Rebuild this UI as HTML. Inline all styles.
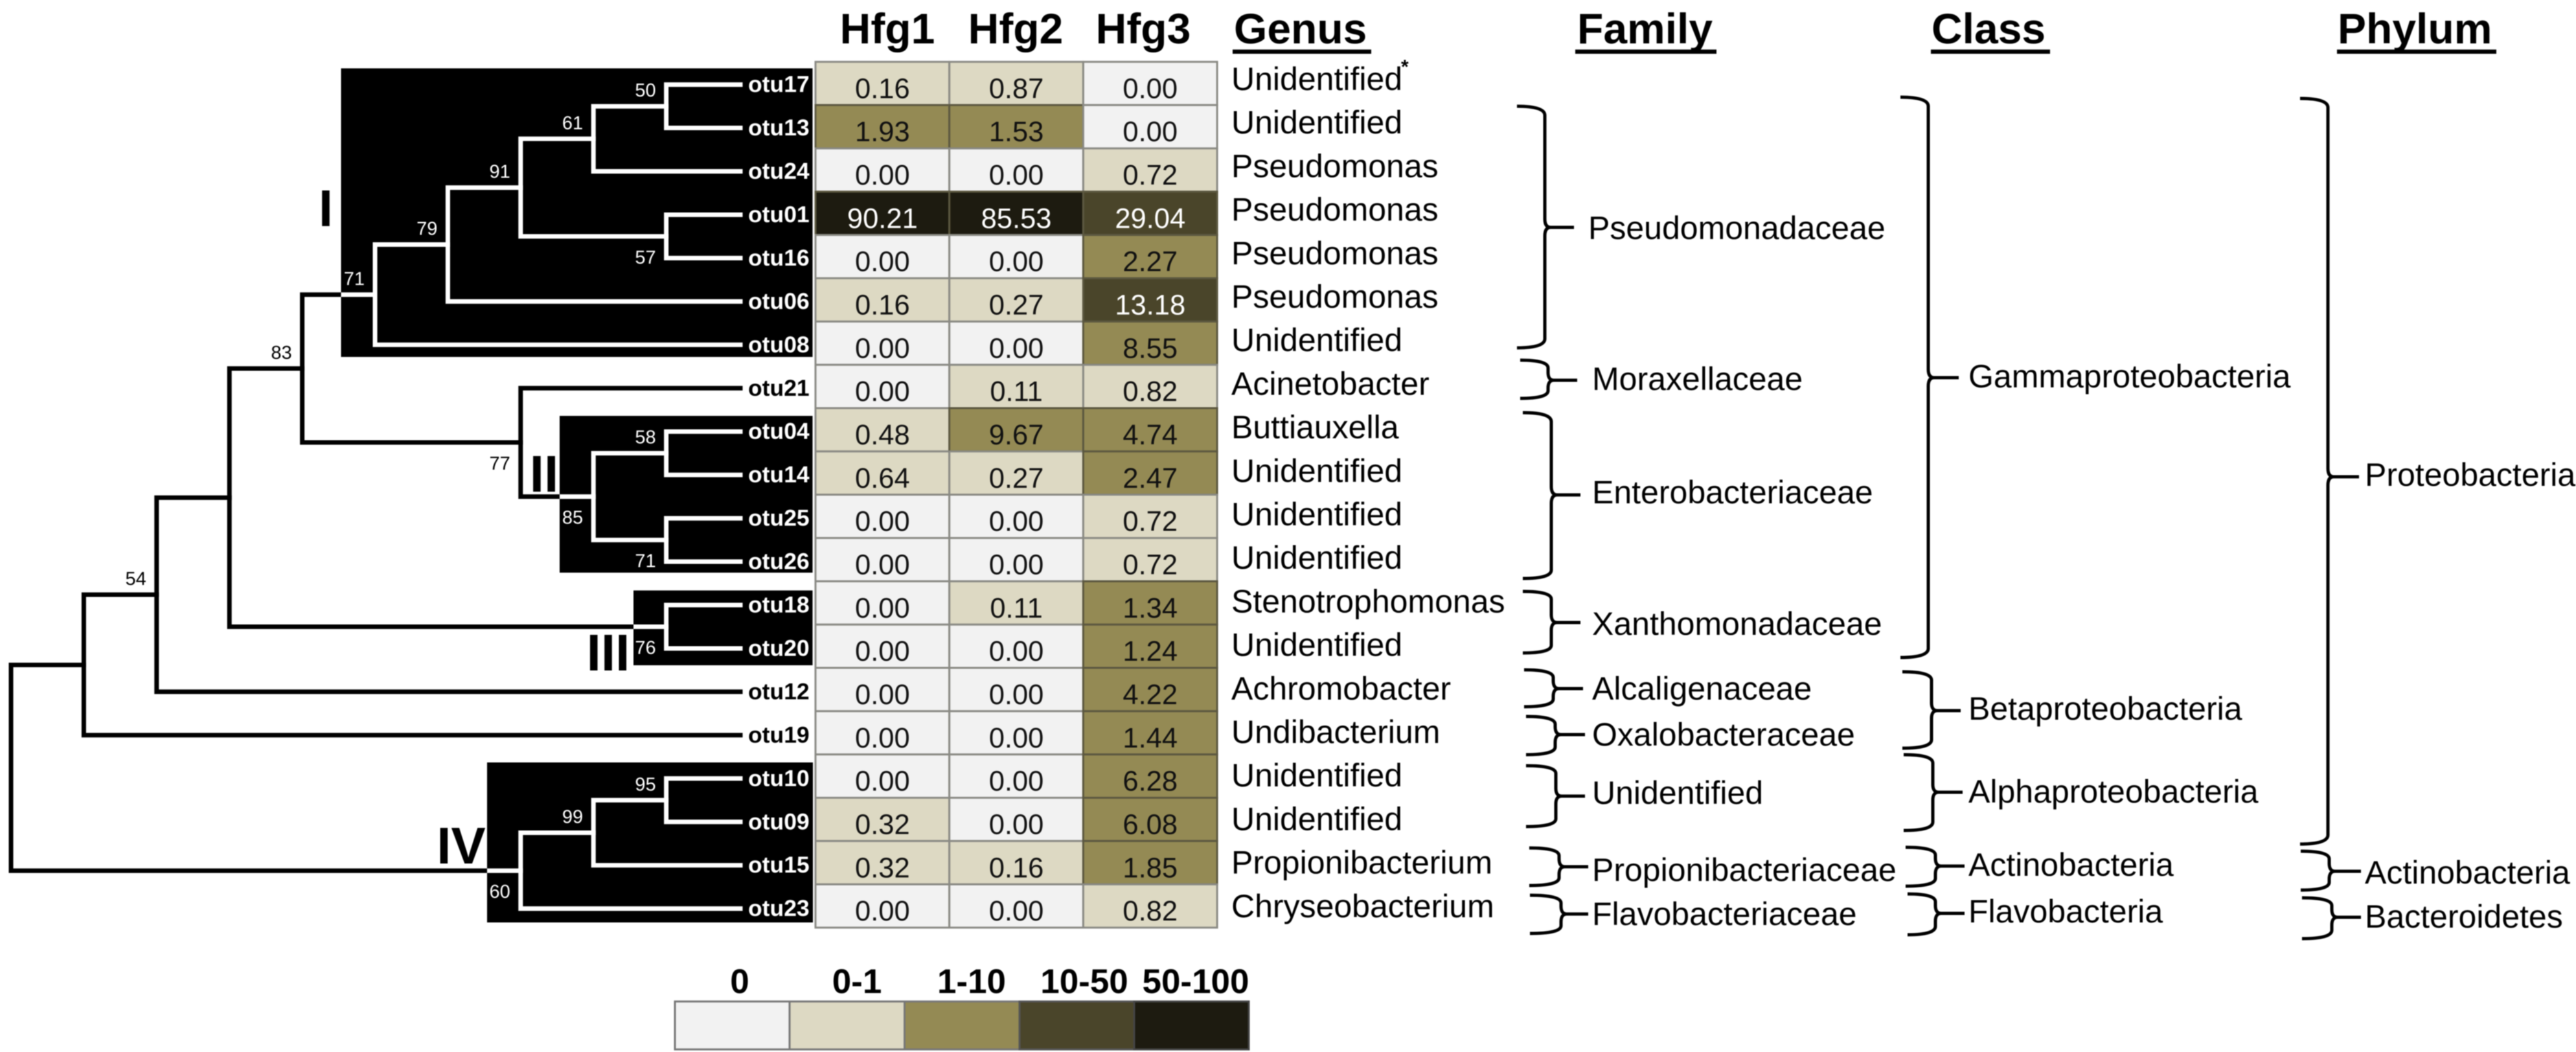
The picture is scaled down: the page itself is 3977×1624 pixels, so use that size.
<!DOCTYPE html>
<html lang="en">
<head>
<meta charset="utf-8">
<title>OTU phylogeny and heatmap</title>
<style>
html,body{margin:0;padding:0;background:#fff;width:3977px;height:1624px;overflow:hidden}
svg{display:block;filter:blur(.7px)}
text{font-family:"Liberation Sans",Arial,sans-serif;fill:#000}
.hdr{font-size:66px;font-weight:700}
.tax{font-size:50px}
.lgd{font-size:53px;font-weight:700;text-anchor:middle}
.cl{font-size:80px;font-weight:700;text-anchor:middle}
.br{fill:none;stroke:#000;stroke-width:5;stroke-linejoin:round;stroke-linecap:butt}
</style>
</head>
<body>
<svg id="chart" xmlns="http://www.w3.org/2000/svg" width="3977" height="1624" viewBox="0 0 3977 1624">
  <rect x="0" y="0" width="3977" height="1624" fill="#fff"/>
  <defs>
    <clipPath id="cladeClip">
      <rect x="526.5" y="105.5" width="728" height="445.5"/>
      <rect x="864" y="642" width="390.5" height="242"/>
      <rect x="978" y="911.5" width="276.5" height="115.5"/>
      <rect x="752" y="1177" width="503" height="247"/>
    </clipPath>
  </defs>

  <rect x="526.5" y="105.5" width="728" height="445.5" fill="#000"/>
  <rect x="864" y="642" width="390.5" height="242" fill="#000"/>
  <rect x="978" y="911.5" width="276.5" height="115.5" fill="#000"/>
  <rect x="752" y="1177" width="503" height="247" fill="#000"/>

  <g id="treeBlack" stroke="#000" stroke-width="7" fill="none" stroke-linecap="square"></g>
  <g id="treeWhite" stroke="#fff" stroke-width="7" fill="none" stroke-linecap="square" clip-path="url(#cladeClip)"></g>
  <g id="treeLabels"></g>

  <text class="cl" x="503" y="349">I</text>
  <text class="cl" x="840" y="759">II</text>
  <text class="cl" x="939" y="1035">III</text>
  <text class="cl" x="712" y="1333">IV</text>

  <g id="heatmap"></g>
  <g id="genus"></g>
  <text x="2163" y="113" font-size="30" font-weight="700">*</text>

  <text class="hdr" x="1370" y="67" text-anchor="middle">Hfg1</text>
  <text class="hdr" x="1568" y="67" text-anchor="middle">Hfg2</text>
  <text class="hdr" x="1765" y="67" text-anchor="middle">Hfg3</text>
  <text class="hdr" x="1905" y="67">Genus</text>
  <rect x="1903" y="76.5" width="214" height="6.5" fill="#000"/>
  <text class="hdr" x="2435" y="67">Family</text>
  <rect x="2432" y="76.5" width="218" height="6.5" fill="#000"/>
  <text class="hdr" x="2982" y="67">Class</text>
  <rect x="2981" y="76.5" width="184" height="6.5" fill="#000"/>
  <text class="hdr" x="3609" y="67">Phylum</text>
  <rect x="3608" y="76.5" width="246" height="6.5" fill="#000"/>

  <!-- Family -->
  <text class="tax" x="2452" y="369">Pseudomonadaceae</text>
  <text class="tax" x="2458" y="602">Moraxellaceae</text>
  <text class="tax" x="2458" y="777">Enterobacteriaceae</text>
  <text class="tax" x="2458" y="980">Xanthomonadaceae</text>
  <text class="tax" x="2458" y="1080">Alcaligenaceae</text>
  <text class="tax" x="2458" y="1151">Oxalobacteraceae</text>
  <text class="tax" x="2458" y="1241">Unidentified</text>
  <text class="tax" x="2458" y="1360">Propionibacteriaceae</text>
  <text class="tax" x="2458" y="1428">Flavobacteriaceae</text>

  <!-- Class -->
  <text class="tax" x="3039" y="598">Gammaproteobacteria</text>
  <text class="tax" x="3039" y="1111">Betaproteobacteria</text>
  <text class="tax" x="3039" y="1239">Alphaproteobacteria</text>
  <text class="tax" x="3039" y="1352">Actinobacteria</text>
  <text class="tax" x="3039" y="1424">Flavobacteria</text>

  <!-- Phylum -->
  <text class="tax" x="3651" y="750">Proteobacteria</text>
  <text class="tax" x="3651" y="1364">Actinobacteria</text>
  <text class="tax" x="3651" y="1432">Bacteroidetes</text>

  <!-- Braces -->
  <g>
    <path class="br" d="M2342 164Q2385 164 2385 178V338Q2385 351 2394 351H2430M2394 351Q2385 351 2385 364V523Q2385 537 2342 537"/>
    <path class="br" d="M2347 556Q2390 556 2390 568V575Q2390 587 2399 587H2435M2399 587Q2390 587 2390 599V603Q2390 615 2347 615"/>
    <path class="br" d="M2351 637Q2395 637 2395 651V751Q2395 764 2404 764H2440M2404 764Q2395 764 2395 777V880Q2395 893 2351 893"/>
    <path class="br" d="M2351 913Q2395 913 2395 925V949Q2395 961 2404 961H2440M2404 961Q2395 961 2395 973V996Q2395 1008 2351 1008"/>
    <path class="br" d="M2353 1034Q2398 1034 2398 1046V1051Q2398 1063 2407 1063H2444M2407 1063Q2398 1063 2398 1075V1079Q2398 1091 2353 1091"/>
    <path class="br" d="M2356 1106Q2401 1106 2401 1118V1122Q2401 1134 2410 1134H2447M2410 1134Q2401 1134 2401 1146V1153Q2401 1165 2356 1165"/>
    <path class="br" d="M2356 1182Q2402 1182 2402 1194V1217Q2402 1229 2411 1229H2447M2411 1229Q2402 1229 2402 1241V1264Q2402 1276 2356 1276"/>
    <path class="br" d="M2361 1309Q2407 1309 2407 1321V1326Q2407 1338 2416 1338H2452M2416 1338Q2407 1338 2407 1350V1355Q2407 1367 2361 1367"/>
    <path class="br" d="M2362 1382Q2410 1382 2410 1394V1399Q2410 1411 2419 1411H2452M2419 1411Q2410 1411 2410 1423V1429Q2410 1441 2362 1441"/>

    <path class="br" d="M2934 150Q2977 150 2977 164V570Q2977 583 2986 583H3024M2986 583Q2977 583 2977 596V1001Q2977 1015 2934 1015"/>
    <path class="br" d="M2937 1037Q2982 1037 2982 1050V1085Q2982 1097 2991 1097H3027M2991 1097Q2982 1097 2982 1109V1142Q2982 1155 2937 1155"/>
    <path class="br" d="M2939 1165Q2984 1165 2984 1178V1211Q2984 1223 2993 1223H3030M2993 1223Q2984 1223 2984 1235V1269Q2984 1282 2939 1282"/>
    <path class="br" d="M2942 1308Q2988 1308 2988 1320V1325Q2988 1337 2997 1337H3033M2997 1337Q2988 1337 2988 1349V1356Q2988 1368 2942 1368"/>
    <path class="br" d="M2945 1380Q2988 1380 2988 1392V1398Q2988 1410 2997 1410H3033M2997 1410Q2988 1410 2988 1422V1430Q2988 1443 2945 1443"/>

    <path class="br" d="M3551 152Q3594 152 3594 166V723Q3594 736 3603 736H3642M3603 736Q3594 736 3594 749V1289Q3594 1303 3551 1303"/>
    <path class="br" d="M3552 1314Q3596 1314 3596 1326V1333Q3596 1345 3605 1345H3645M3605 1345Q3596 1345 3596 1357V1362Q3596 1374 3552 1374"/>
    <path class="br" d="M3554 1386Q3600 1386 3600 1398V1404Q3600 1416 3609 1416H3645M3609 1416Q3600 1416 3600 1428V1436Q3600 1449 3554 1449"/>
  </g>

  <!-- Legend -->
  <g id="legend">
    <text class="lgd" x="1142" y="1533">0</text>
    <text class="lgd" x="1323" y="1533">0-1</text>
    <text class="lgd" x="1500" y="1533">1-10</text>
    <text class="lgd" x="1674" y="1533">10-50</text>
    <text class="lgd" x="1846" y="1533">50-100</text>
    <rect x="1042" y="1546" width="177" height="74" fill="#f2f2f2" stroke="#777" stroke-width="3"/>
    <rect x="1219" y="1546" width="177.5" height="74" fill="#ddd9c3" stroke="#777" stroke-width="3"/>
    <rect x="1396.5" y="1546" width="177.5" height="74" fill="#948a54" stroke="#777" stroke-width="3"/>
    <rect x="1574" y="1546" width="177" height="74" fill="#4a452a" stroke="#555" stroke-width="3"/>
    <rect x="1751" y="1546" width="177" height="74" fill="#1d1b10" stroke="#444" stroke-width="3"/>
  </g>
</svg>

<script>
// ---- chart data ----
const leafNames = ['otu17','otu13','otu24','otu01','otu16','otu06','otu08','otu21','otu04','otu14','otu25','otu26','otu18','otu20','otu12','otu19','otu10','otu09','otu15','otu23'];
const genusNames = ['Unidentified','Unidentified','Pseudomonas','Pseudomonas','Pseudomonas','Pseudomonas','Unidentified','Acinetobacter','Buttiauxella','Unidentified','Unidentified','Unidentified','Stenotrophomonas','Unidentified','Achromobacter','Undibacterium','Unidentified','Unidentified','Propionibacterium','Chryseobacterium'];
const hfg1 = [0.16,1.93,0,90.21,0,0.16,0,0,0.48,0.64,0,0,0,0,0,0,0,0.32,0.32,0];
const hfg2 = [0.87,1.53,0,85.53,0,0.27,0,0.11,9.67,0.27,0,0,0.11,0,0,0,0,0,0.16,0];
const hfg3 = [0,0,0.72,29.04,2.27,13.18,8.55,0.82,4.74,2.47,0.72,0.72,1.34,1.24,4.22,1.44,6.28,6.08,1.85,0.82];
const binLimits = [0,1,10,50];
const binColors = ['#f2f2f2','#ddd9c3','#948a54','#4a452a','#1d1b10'];
const unshadedLeaves = ['otu21','otu12','otu19'];
// node name, left child, right child, bootstrap support, side of the support label
const merges = [
  ['n50','otu17','otu13',50,'above'],
  ['n61','n50','otu24',61,'above'],
  ['n57','otu01','otu16',57,'below'],
  ['n91','n61','n57',91,'above'],
  ['n79','n91','otu06',79,'above'],
  ['n71','n79','otu08',71,'above'],
  ['n58','otu04','otu14',58,'above'],
  ['n71b','otu25','otu26',71,'below'],
  ['n85','n58','n71b',85,'below'],
  ['n77','otu21','n85',77,'below'],
  ['n83','n71','n77',83,'above'],
  ['n76','otu18','otu20',76,'below'],
  ['n87','n83','n76',null,'above'],
  ['n54','n87','otu12',54,'above'],
  ['n88','n54','otu19',null,'above'],
  ['n95','otu10','otu09',95,'above'],
  ['n99','n95','otu15',99,'above'],
  ['n60','n99','otu23',60,'below'],
  ['root','n88','n60',null,'above']
];

// ---- axis functions ----
const NS = 'http://www.w3.org/2000/svg';
const leafEndX = 1143;
const leafRowY = i => 130.6 + 66.95 * i;
const heightX = h => 1141 - 112.4 * h;
const cellTop = i => 95.4 + 66.83 * i;
const columnLeft = c => 1259 + 206.7 * c;
const cellHeight = 66.83, cellWidth = 206.7;

function binOf(v){
  let b = 0;
  for (let k = 0; k < binLimits.length; k++) { if (v > binLimits[k]) b = k + 1; }
  return b;
}
function make(tag, attrs, parent){
  const el = document.createElementNS(NS, tag);
  for (const k in attrs) el.setAttribute(k, attrs[k]);
  parent.appendChild(el);
  return el;
}

// ---- tree ----
const nodes = {};
leafNames.forEach((n, i) => { nodes[n] = {x: leafEndX, y: leafRowY(i), h: 0}; });
merges.forEach(m => {
  const a = nodes[m[1]], b = nodes[m[2]];
  const h = Math.max(a.h, b.h) + 1;
  nodes[m[0]] = {x: heightX(h), y: (a.y + b.y) / 2, h: h};
});
const treeBlack = document.getElementById('treeBlack');
const treeWhite = document.getElementById('treeWhite');
const treeLabels = document.getElementById('treeLabels');
[treeBlack, treeWhite].forEach(group => {
  merges.forEach(m => {
    const p = nodes[m[0]], a = nodes[m[1]], b = nodes[m[2]];
    const d = 'M' + a.x + ' ' + a.y + 'H' + p.x + 'V' + b.y + 'H' + b.x;
    const branch = make('path', {d: d}, group);
    
    
  });
});
merges.forEach(m => {
  if (m[3] === null) return;
  const p = nodes[m[0]];
  const inClade = !['n83','n77','n54'].includes(m[0]);
  const t = make('text', {x: p.x - 16, y: p.y + (m[4] === 'above' ? -15 : 42), 'text-anchor': 'end', 'font-size': 29}, treeLabels);
  t.style.fill = inClade ? '#fff' : '#000';
  t.textContent = m[3];
  
  
});
leafNames.forEach((n, i) => {
  const t = make('text', {x: 1155, y: leafRowY(i) + 11.5, 'font-size': 35.5, 'font-weight': 700}, treeLabels);
  t.style.fill = unshadedLeaves.includes(n) ? '#000' : '#fff';
  t.textContent = n;
  
  
});

// ---- heatmap ----
const heatmap = document.getElementById('heatmap');
[hfg1, hfg2, hfg3].forEach((series, c) => {
  series.forEach((v, i) => {
    const bin = binOf(v);
    const cell = make('rect', {x: columnLeft(c), y: cellTop(i), width: cellWidth, height: cellHeight, fill: binColors[bin], stroke: bin >= 2 ? '#5c5840' : '#8a8a84', 'stroke-width': 3}, heatmap);
    
    
  });
});
[hfg1, hfg2, hfg3].forEach((series, c) => {
  series.forEach((v, i) => {
    const t = make('text', {x: columnLeft(c) + cellWidth / 2, y: cellTop(i) + 56, 'text-anchor': 'middle', 'font-size': 43.5}, heatmap);
    t.style.fill = binOf(v) >= 3 ? '#fff' : '#111';
    t.textContent = v.toFixed(2);
    
    
  });
});

// ---- genus column ----
const genus = document.getElementById('genus');
genusNames.forEach((g, i) => {
  const t = make('text', {x: 1901, y: 139 + 67.2 * i, 'font-size': 50}, genus);
  t.textContent = g;
  
  
});
</script>
</body>
</html>
